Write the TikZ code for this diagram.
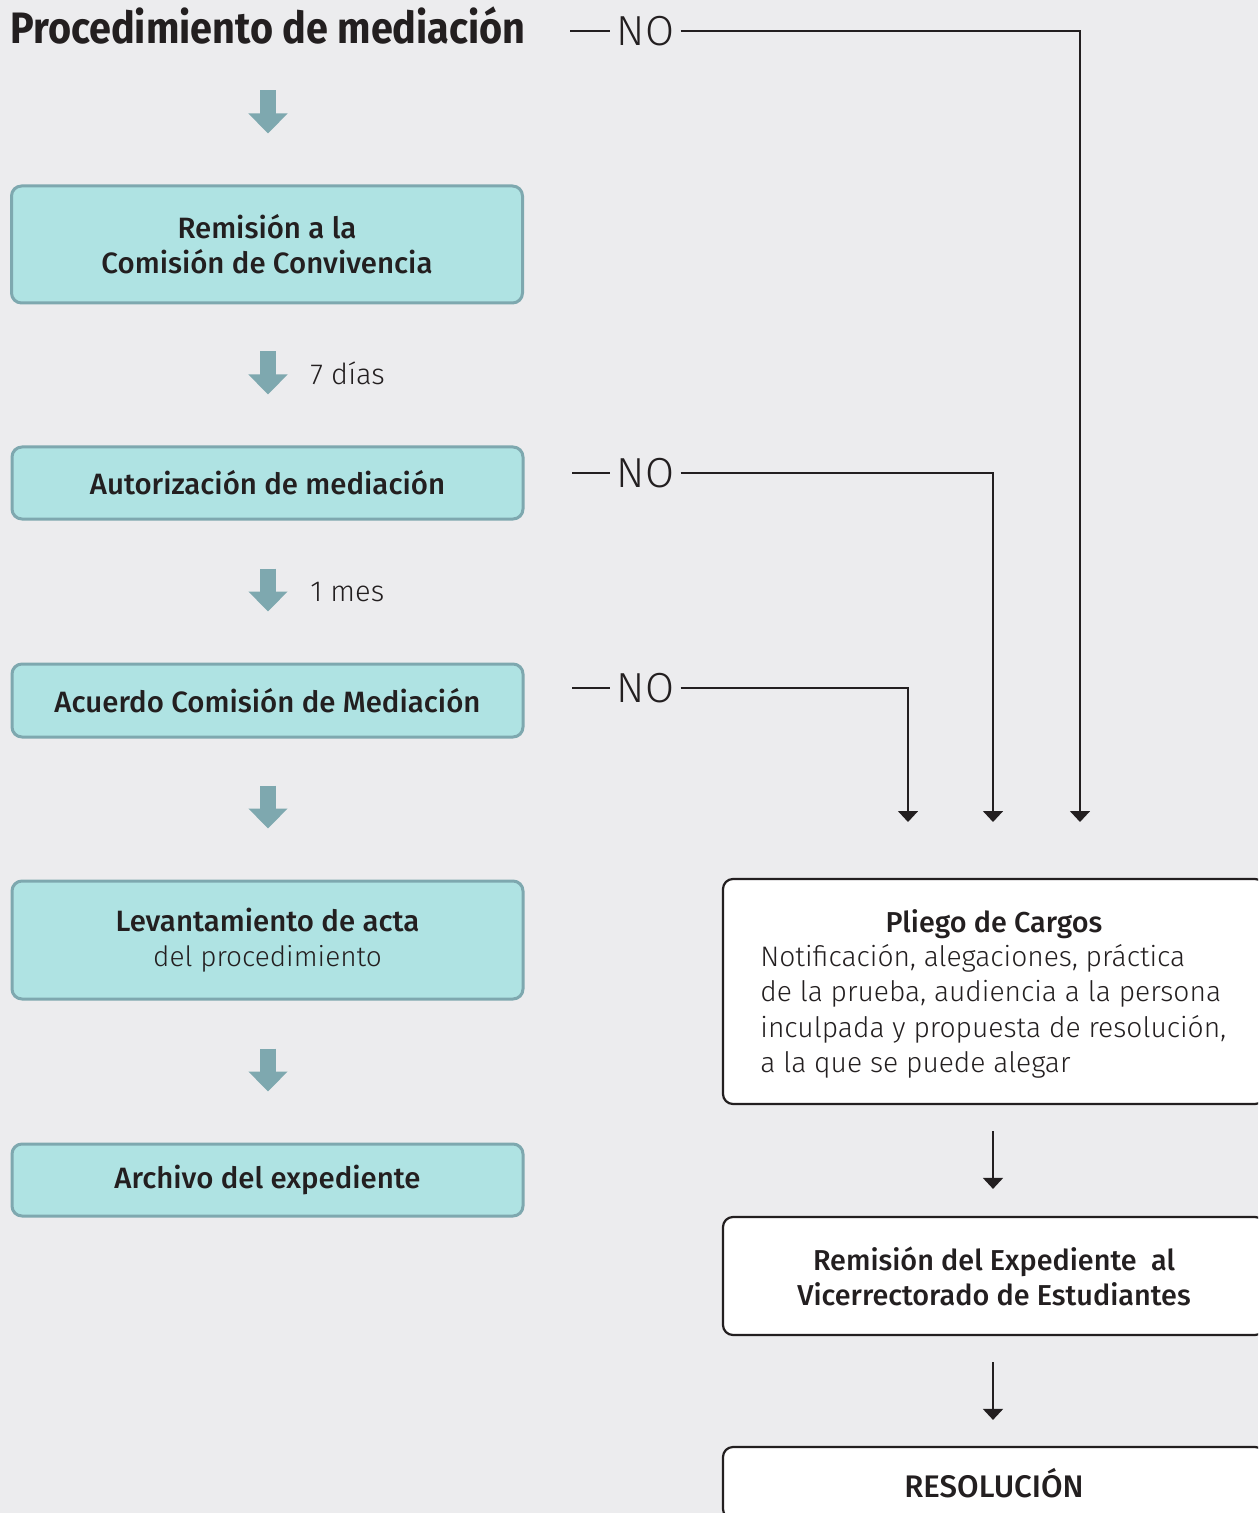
\documentclass[tikz,border=0pt]{standalone}
\usepackage{fontspec}
\setmainfont{Fira Sans}
\newfontfamily\lightf{Fira Sans Light}
\newfontfamily\medf{Fira Sans Medium}
\newfontfamily\boldf{Fira Sans Bold}
\usetikzlibrary{arrows.meta,calc}
\definecolor{bgc}{RGB}{236,236,238}
\definecolor{tealfill}{RGB}{175,227,227}
\definecolor{tealline}{RGB}{126,168,175}
\definecolor{ink}{RGB}{35,31,32}
\tikzset{
  tbox/.style={draw=tealline, fill=tealfill, line width=1.5pt, rounded corners=5pt,
    minimum width=255.5pt, align=center, text=ink, inner sep=0pt,
    font=\medf\fontsize{14.7}{17.5}\selectfont},
  wbox/.style={draw=ink, fill=white, line width=1.1pt, rounded corners=5pt,
    minimum width=271pt, align=center, text=ink, inner sep=0pt,
    font=\medf\fontsize{14.4}{17.5}\selectfont},
  tarrow/.style={draw=tealline, line width=8pt, -{Triangle[width=19pt,length=10pt]}},
  barrow/.style={draw=ink, line width=0.9pt, -{Triangle[width=10pt,length=5.5pt]}},
  nline/.style={draw=ink, line width=0.9pt},
  notext/.style={font=\lightf\fontsize{21}{24}\selectfont, text=ink, inner ysep=0pt, inner xsep=3pt},
  steplabel/.style={font=\lightf\fontsize{14.5}{17}\selectfont, text=ink, anchor=base west, inner sep=0pt},
}
\begin{document}
\begin{tikzpicture}[x=0.5pt,y=-0.5pt]
\clip (0,0) rectangle (1258,1513);
\fill[bgc] (0,0) rectangle (1258,1513);
\useasboundingbox (0,0) rectangle (1258,1513);

% title
\node[anchor=base west, inner sep=0pt, text=ink, font=\boldf\fontsize{22}{26}\selectfont] (title) at (10,44)
  {\scalebox{0.9}[1]{Procedimiento de mediación}};

% left column boxes
\node[tbox, minimum height=58.5pt] (b1) at (267,244.5) {Remisión a la\\Comisión de Convivencia};
\node[tbox, minimum height=36pt] (b2) at (267.5,483) {Autorización de mediación};
\node[tbox, minimum height=36.5pt] (b3) at (267.5,700.5) {Acuerdo Comisión de Mediación};
\node[tbox, minimum height=59pt] (b4) at (267.5,940) {Levantamiento de acta\\{\lightf\fontsize{14}{17.5}\selectfont del procedimiento}};
\node[tbox, minimum height=36pt] (b5) at (267.5,1180) {Archivo del expediente};

% teal arrows
\draw[tarrow] ($(b1.north)+(1,-94)$) -- ($(b1.north)+(1,-51)$);
\draw[tarrow] ($(b2.north)+(0.5,-94)$) -- ($(b2.north)+(0.5,-51)$);
\draw[tarrow] ($(b3.north)+(0.5,-94)$) -- ($(b3.north)+(0.5,-51)$);
\draw[tarrow] ($(b4.north)+(0.5,-94)$) -- ($(b4.north)+(0.5,-51)$);
\draw[tarrow] ($(b5.north)+(0.5,-94)$) -- ($(b5.north)+(0.5,-51)$);
\node[steplabel] (l7) at (310,385) {7 días};
\node[steplabel] (l1) at (310,601) {1 mes};

% right column boxes
\node[wbox, minimum height=112.5pt] (plg) at (994,991.5) {};
\node[anchor=base, inner sep=0pt, text=ink, font=\medf\fontsize{14.4}{17.5}\selectfont] (plgh) at (994,932) {Pliego de Cargos};
\node[anchor=north west, inner sep=0pt, align=left, text=ink, font=\lightf\fontsize{14.1}{17.75}\selectfont] (plgb) at (760,944)
  {Notificación, alegaciones, práctica\\de la prueba, audiencia a la persona\\inculpada y propuesta de resolución,\\a la que se puede alegar};
\node[wbox, minimum height=59pt] (rem) at (994,1276) {Remisión del Expediente\ \ al\\Vicerrectorado de Estudiantes};
\node[wbox, minimum height=36pt, font=\medf\fontsize{15.6}{18}\selectfont] (res) at (994,1483) {RESOLUCIÓN};

\draw[barrow] ($(plg.south)+(-1,26)$) -- ($(rem.north)+(-1,-27)$);
\draw[barrow] ($(rem.south)+(-1,26)$) -- ($(res.north)+(-1,-26)$);

% NO branches
\node[notext] (no1) at (645.5,31) {NO};
\node[notext] (no2) at (645.5,473) {NO};
\node[notext] (no3) at (645.5,688) {NO};
\coordinate (d1) at (570,31);
\coordinate (d2) at (572,473);
\coordinate (d3) at (572,688);
\coordinate (e1) at (1080,822);
\coordinate (e2) at (993,822);
\coordinate (e3) at (908,822);
\draw[nline] (d1) -- (no1.west);
\draw[nline] (d2) -- (no2.west);
\draw[nline] (d3) -- (no3.west);
\draw[barrow] (no1.east) -| (e1);
\draw[barrow] (no2.east) -| (e2);
\draw[barrow] (no3.east) -| (e3);
\end{tikzpicture}
\end{document}
